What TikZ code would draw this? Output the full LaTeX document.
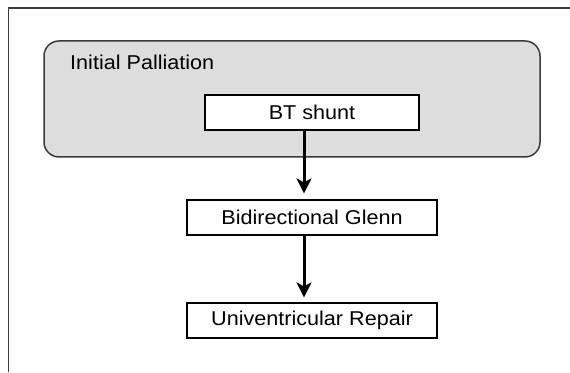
\documentclass[tikz,border=0pt]{standalone}
\usepackage{fontspec}
\setmainfont{Liberation Sans}[FakeStretch=1.08]
\usetikzlibrary{arrows.meta}
\definecolor{panelgray}{HTML}{DCDDDC}
\definecolor{edgegray}{HTML}{3A3A3A}
\tikzset{
  stagebox/.style={draw=black, line width=1.2pt, fill=white, minimum height=35pt,
    inner sep=0pt, font=\fontsize{20}{24}\selectfont},
  flowarrow/.style={line width=3pt, -{Stealth[length=15pt,width=15pt,inset=4pt]}}
}
\begin{document}
\begin{tikzpicture}[x=1pt,y=1pt]
  \useasboundingbox (0,0) rectangle (570,372);
  % open frame (left and top edges)
  \draw[edgegray, line width=1.5pt] (8.5,0) -- (8.5,364) -- (570,364);
  % palliation group
  \draw[edgegray, line width=1.5pt, fill=panelgray, rounded corners=15pt]
    (44,215) rectangle (540,331);
  \node[anchor=base west, inner sep=0pt, font=\fontsize{20}{24}\selectfont]
    (grp) at (70,302) {Initial Palliation};
  % stages
  \node[stagebox, minimum width=214pt] (bt) at (312,259.5) {BT shunt};
  \node[stagebox, minimum width=250pt] (glenn) at (312,154.5) {Bidirectional Glenn};
  \node[stagebox, minimum width=250pt] (univ) at (312,51.5) {Univentricular Repair};
  % connectors
  \coordinate (ax) at (304,0);
  \draw[flowarrow, shorten >=6pt] (bt.south -| ax) -- (glenn.north -| ax);
  \draw[flowarrow, shorten >=5pt] (glenn.south -| ax) -- (univ.north -| ax);
\end{tikzpicture}
\end{document}
